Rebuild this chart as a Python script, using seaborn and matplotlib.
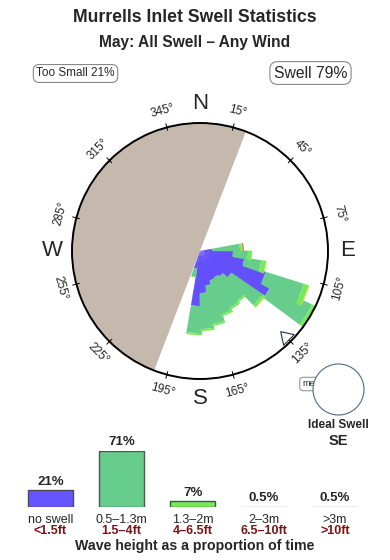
import numpy as np
import pandas as pd
import matplotlib
matplotlib.use("Agg")
import matplotlib.pyplot as plt
import seaborn as sns
from matplotlib.patches import Circle

sns.set_theme(style="white")
plt.rcParams["font.family"] = ["Liberation Sans", "DejaVu Sans"]

# ---------------- data ----------------
title = "Murrells Inlet Swell Statistics"
subtitle = "May: All Swell \u2013 Any Wind"
too_small_label = "Too Small 21%"
swell_label = "Swell 79%"

# rose petals (bearing in degrees, radial lengths of each stacked band)
directions = [85, 95, 104, 113, 121, 130, 139, 148, 157, 166, 175, 184, 194]
band_no_swell = [12, 33, 45, 69, 79, 38, 32, 30, 31, 35, 42, 55, 18]
band_small = [28, 15, 17, 40, 45, 38, 30, 34, 36, 39, 36, 27, 8]
band_medium = [2, 4, 5, 5, 4, 3, 2, 2, 2, 2, 2, 2, 1]
band_large = [0.6, 0, 0.6, 1, 1, 0.6, 0, 0, 0, 0, 0, 0, 0]
band_xl = [1.2, 0, 0, 0, 0, 0, 0, 0, 0, 0, 0, 0, 0]
rose_max = 128

land_start, land_end = 21, 201          # shore sector (through west)
tick_degrees = [15, 45, 75, 105, 135, 165, 195, 225, 255, 285, 315, 345]
cardinals = {"N": 0, "E": 90, "S": 180, "W": 270}
ideal_dir = 135
ideal_text = "SE"

height_cats = ["no swell", "0.5\u20131.3m", "1.3\u20132m", "2\u20133m", ">3m"]
height_ft = ["<1.5ft", "1.5\u20134ft", "4\u20136.5ft", "6.5\u201310ft", ">10ft"]
height_pct = [21, 71, 7, 0.5, 0.5]
height_pct_labels = ["21%", "71%", "7%", "0.5%", "0.5%"]

# ---------------- style ----------------
band_colors = ["#6450fa", "#66cd8c", "#74ec58", "#dcdc40", "#ee5533"]
bar_colors = ["#6655ff", "#66cd8c", "#74ec58", "#bdbcab", "#c29e9e"]
bar_edges = ["#4a4a5a", "#4a5a4a", "#3a5a3a", "#aaaa99", "#b89595"]
land_color = "#c4b9ac"

W, H = 390, 560
fig = plt.figure(figsize=(W / 100, H / 100), dpi=100)
fig.patch.set_facecolor("white")

# ---------------- rose ----------------
cx, cy, R = 200, 251, 128
axp = fig.add_axes([(cx - R) / W, (H - cy - R) / H, 2 * R / W, 2 * R / H],
                   projection="polar")
axp.set_theta_zero_location("N")
axp.set_theta_direction(-1)
axp.set_ylim(0, rose_max)
axp.set_xticks([])
axp.set_yticks([])
axp.grid(False)
axp.set_facecolor("white")
axp.spines["polar"].set_linewidth(1.4)
axp.spines["polar"].set_color("black")

land_center = (land_start + land_end) / 2 + 180
axp.bar(np.deg2rad(land_center), rose_max, width=np.deg2rad(land_end - land_start),
        bottom=0, color=land_color, linewidth=0, zorder=1)

theta = np.deg2rad(directions)
bottom = np.zeros(len(directions))
for vals, col in zip([band_no_swell, band_small, band_medium, band_large, band_xl], band_colors):
    vals = np.array(vals, dtype=float)
    axp.bar(theta, vals, width=np.deg2rad(11), bottom=bottom, color=col,
            linewidth=0, zorder=2)
    bottom += vals

for d in tick_degrees:
    t = np.deg2rad(d)
    axp.plot([t, t], [rose_max * 0.975, rose_max * 1.03], color="black", lw=0.7,
             clip_on=False, zorder=3)
    rot = (-d) % 360
    if 90 < rot <= 270:
        rot -= 180
    axp.text(t, rose_max * 1.13, f"{d}\u00b0", rotation=rot, rotation_mode="anchor",
             ha="center", va="center", fontsize=8.5, clip_on=False)

for lab, d in cardinals.items():
    axp.text(np.deg2rad(d), rose_max * 1.15, lab, ha="center", va="center",
             fontsize=16, clip_on=False)

ti = np.deg2rad(ideal_dir)
axp.annotate("", xy=(ti, rose_max * 0.87), xytext=(ti, rose_max * 1.0),
             arrowprops=dict(arrowstyle="simple,head_length=0.7,head_width=0.9,tail_width=0.3",
                             fc="white", ec="#2a3440", lw=0.8), zorder=4)

# ---------------- overlay (texts, boxes) ----------------
ov = fig.add_axes([0, 0, 1, 1], zorder=5)
ov.patch.set_alpha(0)
ov.set_xlim(0, W)
ov.set_ylim(H, 0)
ov.axis("off")

ov.text(195, 18, title, ha="center", va="center", fontsize=12.7, fontweight="bold")
ov.text(195, 42, subtitle, ha="center", va="center", fontsize=11.2, fontweight="bold")
ov.text(75.5, 73.5, too_small_label, ha="center", va="center", fontsize=8.5,
        bbox=dict(boxstyle="round,pad=0.25,rounding_size=0.5", fc="white", ec="#888888", lw=0.8))
ov.text(310.5, 73, swell_label, ha="center", va="center", fontsize=11.3,
        bbox=dict(boxstyle="round,pad=0.25,rounding_size=0.5", fc="white", ec="#888888", lw=0.8))

ov.text(302, 384, "mean", ha="left", va="center", fontsize=6.5, zorder=6,
        bbox=dict(boxstyle="round,pad=0.25,rounding_size=0.4", fc="white", ec="#888888", lw=0.7))
ov.add_patch(Circle((338.5, 389.5), 25.5, fc="white", ec="#4d6a88", lw=0.8, zorder=7))
ov.text(338, 425, "Ideal Swell", ha="center", va="center", fontsize=8.5, fontweight="bold")
ov.text(338, 441, ideal_text, ha="center", va="center", fontsize=10.5, fontweight="bold")

ov.text(195, 546, "Wave height as a proportion of time", ha="center", va="center",
        fontsize=10.2, fontweight="bold")

# ---------------- height bars ----------------
axb = fig.add_axes([15 / W, (H - 507) / H, 355.5 / W, 56 / H])
df = pd.DataFrame({"cat": height_cats, "pct": height_pct})
sns.barplot(data=df, x="cat", y="pct", hue="cat", order=height_cats, hue_order=height_cats,
            palette=bar_colors, saturation=1, legend=False, width=0.627, ax=axb)
for p, ec in zip(axb.patches, bar_edges):
    p.set_edgecolor(ec)
    p.set_linewidth(1)
axb.set_ylim(0, 71)
axb.set_xlim(-0.5, 4.5)
axb.axis("off")
for i, (v, lab) in enumerate(zip(height_pct, height_pct_labels)):
    axb.annotate(lab, (i, v), xytext=(0, 2), textcoords="offset points",
                 ha="center", va="bottom", fontsize=9.5, fontweight="bold", annotation_clip=False)
    axb.annotate(height_cats[i], (i, 0), xytext=(0, -5), textcoords="offset points",
                 ha="center", va="top", fontsize=9, annotation_clip=False)
    axb.annotate(height_ft[i], (i, 0), xytext=(0, -13), textcoords="offset points",
                 ha="center", va="top", fontsize=9, fontweight="bold", color="#7a1414",
                 annotation_clip=False)

fig.savefig("out.png", dpi=100, facecolor="white")
